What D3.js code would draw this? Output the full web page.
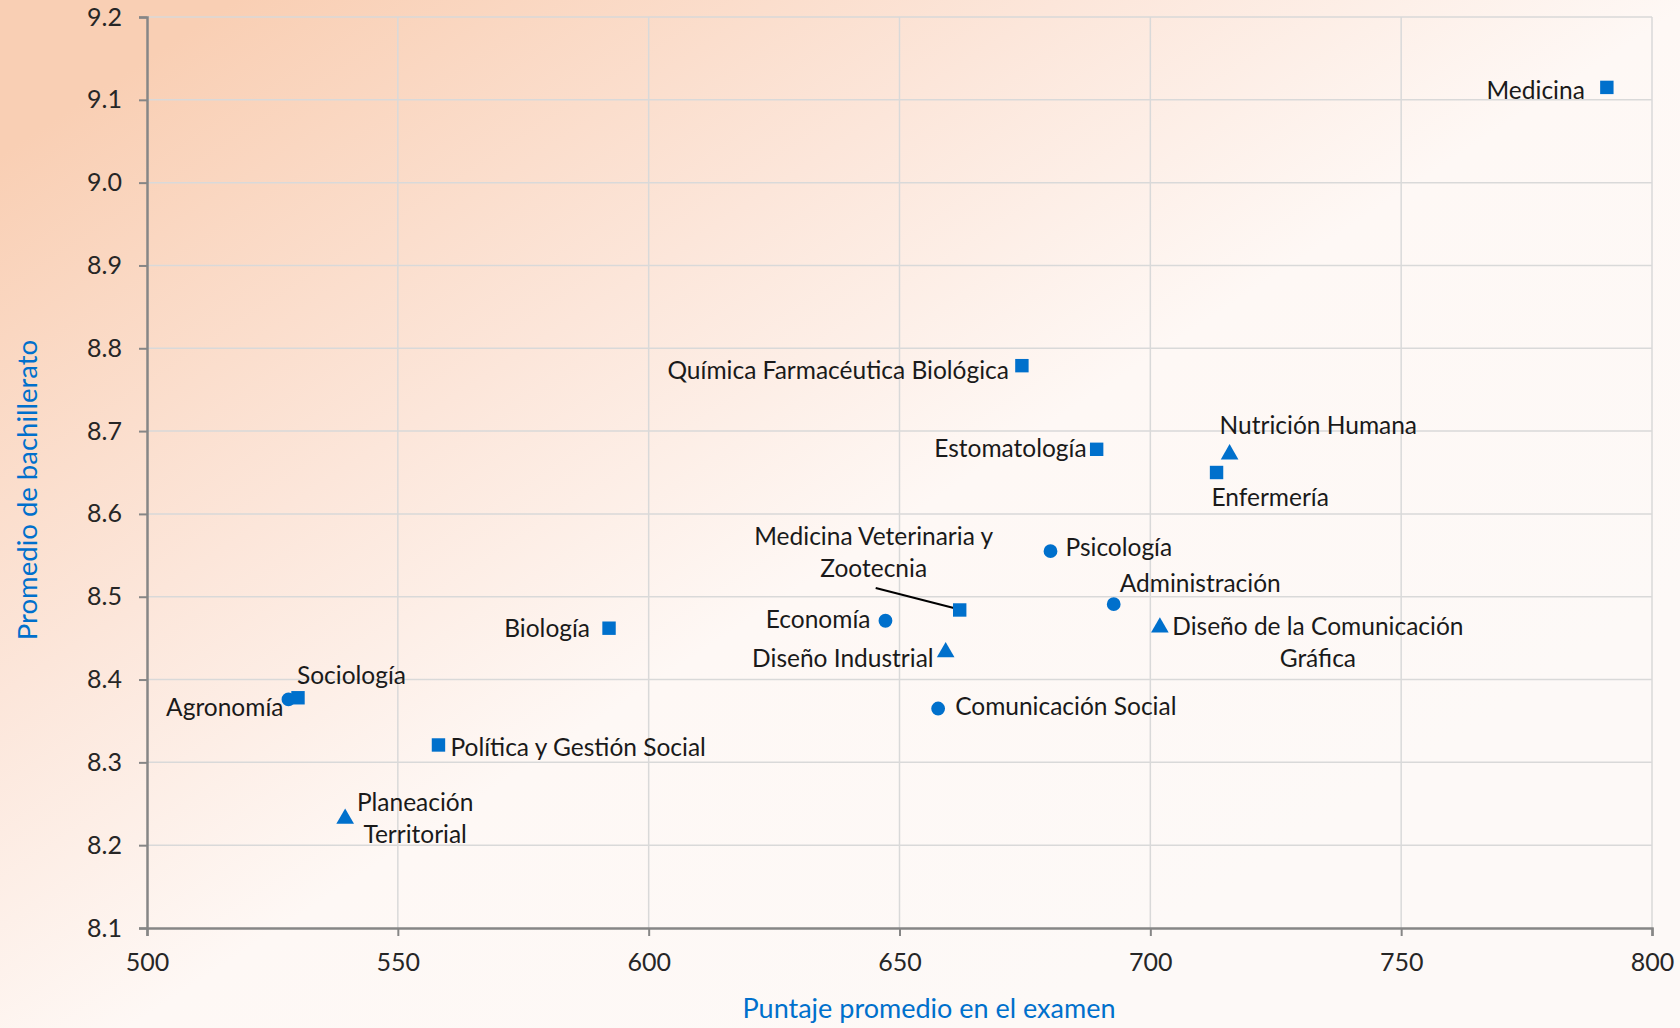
<!DOCTYPE html>
<html>
<head>
<meta charset="utf-8">
<script src="https://cdn.jsdelivr.net/npm/d3@7"></script>
<style>
  html, body { margin: 0; padding: 0; }
  body { width: 1680px; height: 1028px; overflow: hidden; }
  svg text { font-family: Lato, "Open Sans", sans-serif; }
</style>
</head>
<body>
<div id="chart"></div>
<script>
// data
const careers = ['Medicina', 'Química Farmacéutica Biológica', 'Estomatología', 'Nutrición Humana',
  'Enfermería', 'Psicología', 'Administración', 'Diseño de la Comunicación Gráfica',
  'Medicina Veterinaria y Zootecnia', 'Economía', 'Diseño Industrial', 'Comunicación Social',
  'Biología', 'Sociología', 'Agronomía', 'Política y Gestión Social', 'Planeación Territorial'];
const examScore = [791, 674.4, 689.3, 715.8, 713.2, 680.1, 692.7, 701.9,
  662.0, 647.2, 659.2, 657.7, 592.1, 530.1, 528.2, 558.1, 539.5];
const highSchoolAvg = [9.115, 8.779, 8.678, 8.672, 8.650, 8.555, 8.491, 8.463,
  8.484, 8.471, 8.433, 8.365, 8.462, 8.378, 8.376, 8.321, 8.232];
const markerShape = ['square', 'square', 'square', 'triangle', 'square', 'circle', 'circle', 'triangle',
  'square', 'circle', 'triangle', 'circle', 'square', 'square', 'circle', 'square', 'triangle'];
const xTicks = [500, 550, 600, 650, 700, 750, 800];
const yTicks = [8.1, 8.2, 8.3, 8.4, 8.5, 8.6, 8.7, 8.8, 8.9, 9.0, 9.1, 9.2];

// label layout: offsets from the marker (px), anchor, and line breaks
const labelLayout = {
  'Medicina': { dx: -22, dy: 3, anchor: 'end' },
  'Química Farmacéutica Biológica': { dx: -13, dy: 5, anchor: 'end' },
  'Estomatología': { dx: -10, dy: -1, anchor: 'end' },
  'Nutrición Humana': { dx: -10, dy: -29, anchor: 'start' },
  'Enfermería': { dx: -5, dy: 25, anchor: 'start' },
  'Psicología': { dx: 15, dy: -4, anchor: 'start' },
  'Administración': { dx: 6, dy: -21, anchor: 'start' },
  'Diseño de la Comunicación Gráfica': { dx: 158, dy: -1, anchor: 'middle', lines: ['Diseño de la Comunicación', 'Gráfica'] },
  'Medicina Veterinaria y Zootecnia': { dx: -86, dy: -74, anchor: 'middle', lines: ['Medicina Veterinaria y', 'Zootecnia'], leader: [-84, -22] },
  'Economía': { dx: -15, dy: -1, anchor: 'end' },
  'Diseño Industrial': { dx: -12, dy: 6, anchor: 'end' },
  'Comunicación Social': { dx: 17, dy: -2, anchor: 'start' },
  'Biología': { dx: -19, dy: 0, anchor: 'end' },
  'Sociología': { dx: -1, dy: -22, anchor: 'start' },
  'Agronomía': { dx: -5, dy: 8, anchor: 'end' },
  'Política y Gestión Social': { dx: 12, dy: 2, anchor: 'start' },
  'Planeación Territorial': { dx: 70, dy: -16, anchor: 'middle', lines: ['Planeación', 'Territorial'] }
};

const W = 1680, H = 1028;
const margin = { left: 147, right: 28, top: 17, bottom: 100 };
const blue = '#0070CC';

const svg = d3.select('#chart').append('svg')
  .attr('width', W).attr('height', H);

// background
const defs = svg.append('defs');
const grad = defs.append('linearGradient').attr('id', 'bg')
  .attr('x1', 0).attr('y1', 0.15).attr('x2', 0.75).attr('y2', 0.85);
grad.append('stop').attr('offset', 0).attr('stop-color', '#F9CFB4');
grad.append('stop').attr('offset', 0.35).attr('stop-color', '#FCE6DA');
grad.append('stop').attr('offset', 0.62).attr('stop-color', '#FEF8F5');
grad.append('stop').attr('offset', 1).attr('stop-color', '#FDF9F7');
svg.append('rect').attr('width', W).attr('height', H).attr('fill', 'url(#bg)');

const x = d3.scaleLinear().domain([500, 800]).range([margin.left, W - margin.right]);
const y = d3.scaleLinear().domain([8.1, 9.2]).range([H - margin.bottom, margin.top]);

// grid
svg.append('g').selectAll('line').data(xTicks.slice(1)).join('line')
  .attr('x1', d => x(d)).attr('x2', d => x(d))
  .attr('y1', y(9.2)).attr('y2', y(8.1))
  .attr('stroke', '#D9D9D9').attr('stroke-width', 1.5);
svg.append('g').selectAll('line').data(yTicks.slice(1)).join('line')
  .attr('x1', x(500)).attr('x2', x(800))
  .attr('y1', d => y(d)).attr('y2', d => y(d))
  .attr('stroke', '#D9D9D9').attr('stroke-width', 1.5);

// axes
const xAxis = svg.append('g').attr('transform', `translate(0,${y(8.1)})`)
  .call(d3.axisBottom(x).tickValues(xTicks).tickSize(8).tickPadding(17).tickFormat(d3.format('d')));
const yAxis = svg.append('g').attr('transform', `translate(${x(500)},0)`)
  .call(d3.axisLeft(y).tickValues(yTicks).tickSize(8).tickPadding(17).tickFormat(d3.format('.1f')));
[xAxis, yAxis].forEach(a => {
  a.select('.domain').attr('stroke', '#868686').attr('stroke-width', 2.5);
  a.selectAll('.tick line').attr('stroke', '#868686').attr('stroke-width', 2);
  a.selectAll('.tick text').attr('fill', '#262626').style('font-size', '25px');
});

// axis titles
svg.append('text')
  .attr('x', 929).attr('y', 1009).attr('dy', '0.35em')
  .attr('text-anchor', 'middle').attr('fill', blue).style('font-size', '27px')
  .text('Puntaje promedio en el examen');
svg.append('text')
  .attr('transform', 'translate(27,490) rotate(-90)').attr('dy', '0.35em')
  .attr('text-anchor', 'middle').attr('fill', blue).style('font-size', '27.5px')
  .text('Promedio de bachillerato');

// points
const points = careers.map((name, i) => ({ name, sx: examScore[i], sy: highSchoolAvg[i], shape: markerShape[i] }));
const symbolType = { square: d3.symbolSquare, circle: d3.symbolCircle, triangle: d3.symbolTriangle };
const symbolSize = { square: 180, circle: 150, triangle: 135 };

// leader lines
points.filter(p => labelLayout[p.name].leader).forEach(p => {
  const L = labelLayout[p.name];
  svg.append('line')
    .attr('x1', x(p.sx) + L.leader[0]).attr('y1', y(p.sy) + L.leader[1])
    .attr('x2', x(p.sx) - 2).attr('y2', y(p.sy) - 1)
    .attr('stroke', '#000').attr('stroke-width', 2);
});

svg.append('g').selectAll('path').data(points).join('path')
  .attr('transform', d => `translate(${x(d.sx)},${y(d.sy)})`)
  .attr('d', d => d3.symbol().type(symbolType[d.shape]).size(symbolSize[d.shape])())
  .attr('fill', blue);

// labels
const labels = svg.append('g');
points.forEach(p => {
  const L = labelLayout[p.name];
  const lines = L.lines || [p.name];
  const t = labels.append('text')
    .attr('text-anchor', L.anchor).attr('fill', '#1a1a1a').style('font-size', '24.5px');
  lines.forEach((ln, k) => {
    t.append('tspan')
      .attr('x', x(p.sx) + L.dx)
      .attr('y', y(p.sy) + L.dy + k * 32)
      .attr('dy', '0.35em')
      .text(ln);
  });
});
</script>
</body>
</html>
